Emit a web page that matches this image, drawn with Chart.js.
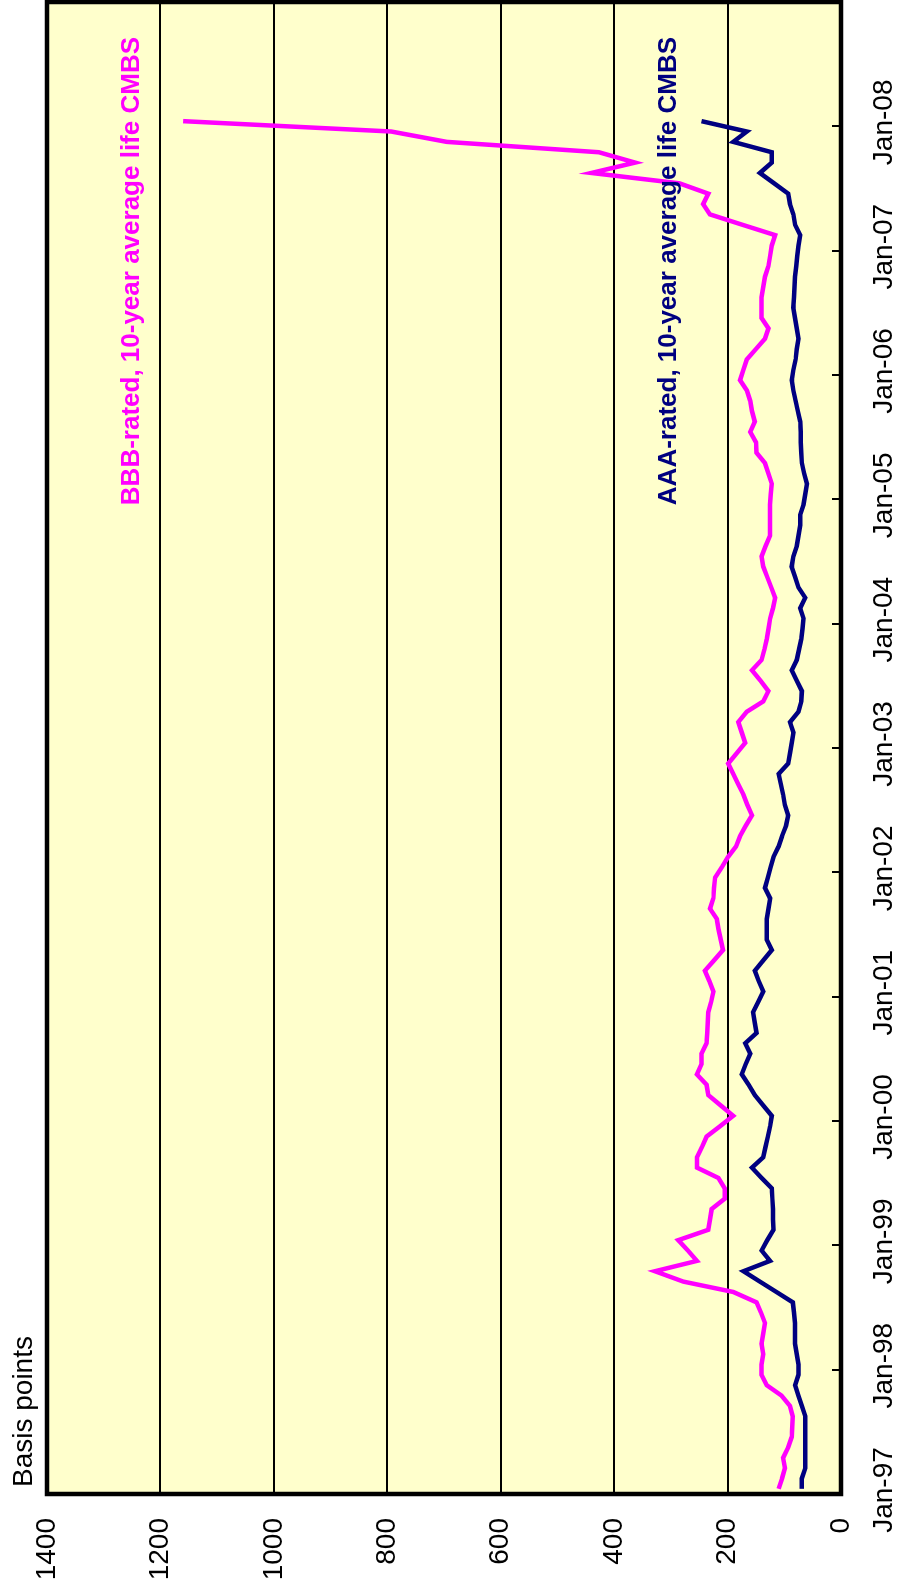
<!DOCTYPE html>
<html><head><meta charset="utf-8">
<script src="https://cdn.jsdelivr.net/npm/chart.js@4.4.1/dist/chart.umd.min.js"></script>
<style>
html,body{margin:0;padding:0;background:#fff;overflow:hidden;width:899px;height:1593px;}
#wrap{position:absolute;left:0;top:0;width:1593px;height:899px;transform-origin:0 0;transform:translate(0,1593px) rotate(-90deg);}
</style></head><body>
<div id="wrap"><canvas id="c" width="1593" height="899"></canvas></div>
<script>
// Year labels for the date axis (ticks every January)
const yearLabels = ['Jan-97','Jan-98','Jan-99','Jan-00','Jan-01','Jan-02','Jan-03','Jan-04','Jan-05','Jan-06','Jan-07','Jan-08',''];
// Monthly spreads, Jan-97 .. Jan-08 (basis points)
const bbbSpread = [
 110,104,99,102,93,87,86,85,90,105,131,140,
 140,137,140,137,134,141,149,190,278,328,254,270,
 287,234,231,228,205,205,216,254,254,245,237,213,
 190,212,234,237,254,246,246,237,236,235,234,229,
 225,232,240,224,208,212,216,219,231,225,224,222,
 210,199,185,178,168,157,165,172,181,190,199,184,
 169,175,181,166,137,128,142,157,140,135,131,128,
 125,120,116,123,130,137,140,133,125,125,125,125,
 124,122,128,134,149,150,160,152,157,160,166,178,
 172,166,150,134,128,140,140,140,137,134,128,125,
 122,116,174,231,243,234,285,440,363,427,695,793,
 1160];
const aaaSpread = [
 69,69,63,63,63,63,63,63,69,75,81,75,
 75,78,81,81,81,83,85,114,143,172,125,140,
 130,119,120,120,121,122,140,157,137,133,129,125,
 122,137,152,163,175,168,160,169,149,152,155,146,
 137,145,152,137,122,131,131,131,128,125,134,129,
 124,119,110,104,97,93,99,102,106,110,93,90,
 87,84,90,75,70,69,78,87,78,74,70,68,
 66,72,63,75,81,87,84,78,75,72,72,66,
 63,60,65,69,70,71,71,72,76,80,84,87,
 84,80,78,75,78,81,84,83,82,81,79,77,
 75,72,81,84,90,93,118,143,122,122,190,166,
 246];
const valueTicks = [0,200,400,600,800,1000,1200,1400];
const seriesNames = ['BBB-rated, 10-year average life CMBS','AAA-rated, 10-year average life CMBS'];
const seriesColors = ['#FF00FF','#000080'];
const axisTitle = 'Basis points';

const FONT = "'Liberation Sans', Arial, sans-serif";

const toPoints = arr => arr.map((v,i)=>({x:i+0.5, y:v}));

const zeroPad = s => { s.paddingLeft = 0; s.paddingRight = 0; s.paddingTop = 0; s.paddingBottom = 0; };

const decor = {
  id:'decor',
  beforeDraw(chart){
    const {ctx, chartArea:a} = chart;
    ctx.save();
    ctx.fillStyle = '#FFFFCC';
    ctx.fillRect(a.left, a.top, a.right-a.left, a.bottom-a.top);
    ctx.restore();
  },
  afterDraw(chart){
    const {ctx, chartArea:a, scales} = chart;
    const xs = scales.x;
    ctx.save();
    // inward tick marks on the date axis
    ctx.strokeStyle = '#000'; ctx.lineWidth = 2;
    for (let k=1;k<yearLabels.length-1;k++){
      const px = Math.round(xs.getPixelForValue(k*12));
      ctx.beginPath(); ctx.moveTo(px, a.bottom); ctx.lineTo(px, a.bottom-9); ctx.stroke();
    }
    // frame
    ctx.lineWidth = 4.5;
    ctx.strokeRect(a.left, a.top, a.right-a.left, a.bottom-a.top);
    // axis title
    ctx.fillStyle = '#000';
    ctx.font = '28px ' + FONT;
    ctx.textAlign = 'left'; ctx.textBaseline = 'alphabetic';
    ctx.fillText(axisTitle, a.left + 7, 32);
    // series labels
    ctx.font = 'bold 26px ' + FONT;
    ctx.textAlign = 'right';
    ctx.fillStyle = seriesColors[0];
    ctx.fillText(seriesNames[0], 1556, 139);
    ctx.fillStyle = seriesColors[1];
    ctx.fillText(seriesNames[1], 1556, 676);
    ctx.restore();
  }
};

new Chart(document.getElementById('c'), {
  type:'line',
  data:{
    datasets:[
      {label:seriesNames[0], data:toPoints(bbbSpread), borderColor:seriesColors[0], borderWidth:4.5, pointRadius:0, tension:0, fill:false},
      {label:seriesNames[1], data:toPoints(aaaSpread), borderColor:seriesColors[1], borderWidth:4.5, pointRadius:0, tension:0, fill:false}
    ]
  },
  options:{
    responsive:false, animation:false, devicePixelRatio:1,
    layout:{padding:{left:0,right:2,top:47,bottom:0}},
    plugins:{legend:{display:false}, tooltip:{enabled:false}, title:{display:false}},
    scales:{
      x:{type:'linear', min:0, max:144,
         grid:{display:false, drawTicks:false}, border:{display:false},
         ticks:{stepSize:12, autoSkip:false, maxRotation:0, minRotation:0, padding:26, labelOffset:4,
                color:'#000', font:{family:FONT, size:28},
                callback:(v)=> yearLabels[Math.round(v/12)] || ''},
         afterFit(s){ s.height = 58; zeroPad(s); }
      },
      y:{min:0, max:1400,
         grid:{color:'#000', lineWidth:2, drawTicks:false}, border:{display:false},
         afterBuildTicks(s){ s.ticks = valueTicks.map(v=>({value:v})); },
         ticks:{padding:24, color:'#000', font:{family:FONT, size:28}, callback:(v)=> String(v)},
         afterFit(s){ s.width = 99; zeroPad(s); }
      }
    }
  },
  plugins:[decor]
});
</script>
</body></html>
